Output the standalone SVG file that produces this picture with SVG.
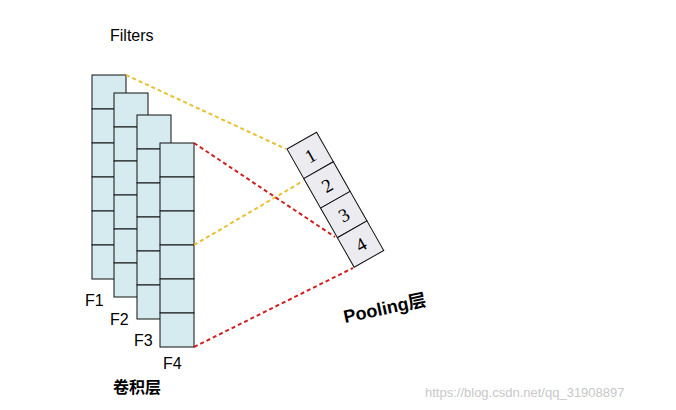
<svg xmlns="http://www.w3.org/2000/svg" width="676" height="410" viewBox="0 0 676 410">
<style>
.c{fill:#d6ebf0;stroke:#111;stroke-width:1}
.p{fill:#ecebef;stroke:#111;stroke-width:1}
.t{font-family:"Liberation Sans",Arial,sans-serif;font-size:16px;fill:#000}
.n{font-family:"Liberation Serif",serif;font-size:19px;fill:#000;text-anchor:middle}
.y{stroke:#e8c030;stroke-width:2;stroke-dasharray:4,3;fill:none}
.r{stroke:#d02020;stroke-width:2;stroke-dasharray:4,3;fill:none}
</style>
<defs>
<g id="col">
<rect class="c" x="0" y="0" width="34" height="34"/>
<rect class="c" x="0" y="34" width="34" height="34"/>
<rect class="c" x="0" y="68" width="34" height="34"/>
<rect class="c" x="0" y="102" width="34" height="34"/>
<rect class="c" x="0" y="136" width="34" height="34"/>
<rect class="c" x="0" y="170" width="34" height="34"/>
</g>
</defs>
<rect width="676" height="410" fill="#fff"/>
<text class="t" x="110" y="41">Filters</text>
<g id="F1"><use href="#col" x="92" y="75"/><text class="t" x="85" y="306">F1</text></g>
<g id="F2"><use href="#col" x="114" y="93"/><text class="t" x="110" y="325">F2</text></g>
<g id="F3"><use href="#col" x="137" y="115"/><text class="t" x="134" y="346">F3</text></g>
<g id="F4"><use href="#col" x="160" y="143"/><text class="t" x="163" y="369">F4</text></g>
<text class="t" x="113" y="393" font-weight="bold" style="font-family:'Liberation Sans','Noto Sans CJK SC',sans-serif">卷积层</text>
<g id="pool" transform="translate(287,149) rotate(-29.6)">
<rect class="p" x="0" y="0" width="34" height="34"/>
<rect class="p" x="0" y="34" width="34" height="34"/>
<rect class="p" x="0" y="68" width="34" height="34"/>
<rect class="p" x="0" y="102" width="34" height="34"/>
<text class="n" x="17" y="24">1</text>
<text class="n" x="17" y="58">2</text>
<text class="n" x="17" y="92">3</text>
<text class="n" x="17" y="126">4</text>
</g>
<g id="connectors">
<line class="y" x1="126" y1="75" x2="286" y2="149"/>
<line class="y" x1="194" y1="245" x2="303" y2="181"/>
<line class="r" x1="194" y1="143" x2="335" y2="237"/>
<line class="r" x1="194" y1="347" x2="353" y2="268"/>
</g>
<text x="345" y="323" font-size="18" font-weight="bold" transform="rotate(-12 345 323)" style="font-family:'Liberation Sans','Noto Sans CJK SC',sans-serif">Pooling层</text>
<text x="425" y="397" font-family="Liberation Sans,sans-serif" font-size="13" fill="#c8c8c8">https://blog.csdn.net/qq_31908897</text>
</svg>
